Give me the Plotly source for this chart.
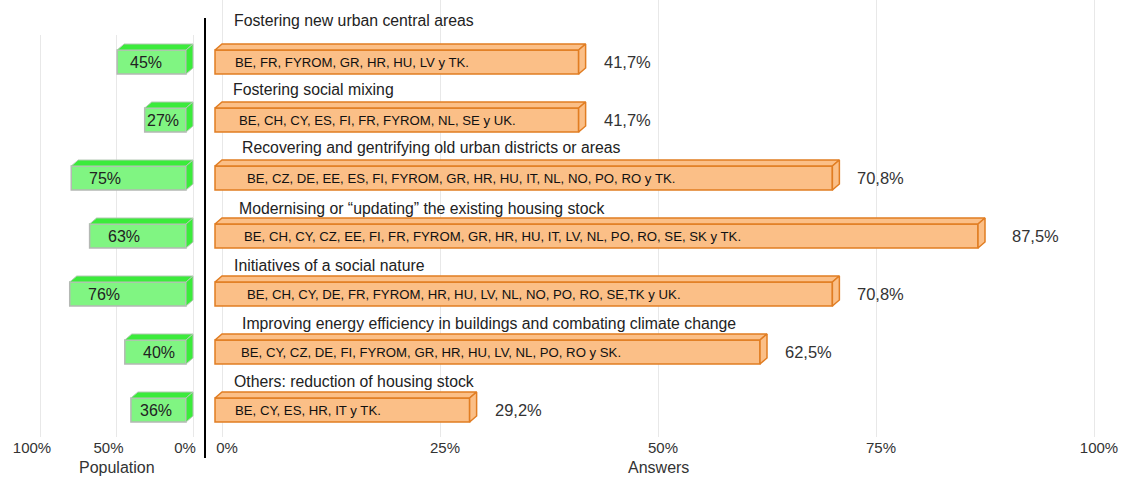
import plotly.graph_objects as go

# ---------------- data ----------------
categories = [
    "Fostering new urban central areas",
    "Fostering social mixing",
    "Recovering and gentrifying old urban districts or areas",
    "Modernising or \u201cupdating\u201d the existing housing stock",
    "Initiatives of a social nature",
    "Improving energy efficiency in buildings and combating climate change",
    "Others: reduction of housing stock",
]
countries = [
    "BE, FR, FYROM, GR, HR, HU, LV y TK.",
    "BE, CH, CY, ES, FI, FR, FYROM, NL, SE y UK.",
    "BE, CZ, DE, EE, ES, FI, FYROM, GR, HR, HU, IT, NL, NO, PO, RO y TK.",
    "BE, CH, CY, CZ, EE, FI, FR, FYROM, GR, HR, HU, IT, LV, NL, PO, RO, SE, SK y TK.",
    "BE, CH, CY, DE, FR, FYROM, HR, HU, LV, NL, NO, PO, RO, SE,TK y UK.",
    "BE, CY, CZ, DE, FI, FYROM, GR, HR, HU, LV, NL, PO, RO y SK.",
    "BE, CY, ES, HR, IT y TK.",
]
answers = [41.7, 41.7, 70.8, 87.5, 70.8, 62.5, 29.2]
population = [45, 27, 75, 63, 76, 40, 36]
left_ticks = [100, 50, 0]
right_ticks = [0, 25, 50, 75, 100]

# ---------------- layout geometry (pixels) ----------------
W, H = 1124, 481
FONT = "Liberation Sans, Arial, sans-serif"
ROW0, ROWSTEP = 62.0, 58.0          # pixel centre of first front face, row pitch
PLOT_BOTTOM = 437.0
LEFT_TOP = 35.0
R0PX, R100PX = 222.0, 1094.0        # right axis 0% and 100%
L0PX, L100PX = 193.0, 40.0          # left axis 0% and 100%
DIVX = 205.0
DX, DY, FACE_H = 7.0, 6.0, 24.0     # 3D depth and front-face height in px

def py2i(p):
    return (p - ROW0) / ROWSTEP

rs = (R100PX - R0PX) / 100.0        # px per unit right
ls = (L0PX - L100PX) / 100.0        # px per unit left
dxr = DX / rs
dxl = DX / ls
dyi = DY / ROWSTEP
hi = FACE_H / ROWSTEP

n = len(categories)
idx = list(range(n))

fig = go.Figure()

# ---------- right (answers) front faces ----------
fig.add_trace(go.Bar(
    y=idx, x=answers, base=[-dxr] * n, orientation="h", width=hi,
    marker=dict(color="#FBBF87", line=dict(color="#E17D22", width=1.5)),
    xaxis="x", yaxis="y", hoverinfo="skip", showlegend=False,
))
tx, ty, sx, sy = [], [], [], []
for i, v in zip(idx, answers):
    x0, x1 = -dxr, v - dxr
    yt, yb = i - hi / 2, i + hi / 2
    tx += [x0, x1, x1 + dxr, x0 + dxr, x0, None]
    ty += [yt, yt, yt - dyi, yt - dyi, yt, None]
    sx += [x1, x1 + dxr, x1 + dxr, x1, x1, None]
    sy += [yt, yt - dyi, yb - dyi, yb, yt, None]
for xs, ys in ((tx, ty), (sx, sy)):
    fig.add_trace(go.Scatter(
        x=xs, y=ys, mode="lines", fill="toself", fillcolor="#FBBF87",
        line=dict(color="#E17D22", width=1.5), xaxis="x", yaxis="y",
        hoverinfo="skip", showlegend=False,
    ))

# ---------- left (population) front faces ----------
fig.add_trace(go.Bar(
    y=idx, x=population, base=[dxl] * n, orientation="h", width=hi,
    marker=dict(color="#80F582", line=dict(color="#B4B8B4", width=1.5)),
    xaxis="x2", yaxis="y2", hoverinfo="skip", showlegend=False,
))
tx, ty, sx, sy = [], [], [], []
for i, v in zip(idx, population):
    x0, x1 = v + dxl, dxl
    yt, yb = i - hi / 2, i + hi / 2
    tx += [x0, x1, x1 - dxl, x0 - dxl, x0, None]
    ty += [yt, yt, yt - dyi, yt - dyi, yt, None]
    sx += [x1, x1 - dxl, x1 - dxl, x1, x1, None]
    sy += [yt, yt - dyi, yb - dyi, yb, yt, None]
for xs, ys in ((tx, ty), (sx, sy)):
    fig.add_trace(go.Scatter(
        x=xs, y=ys, mode="lines", fill="toself", fillcolor="#3BEB3B",
        line=dict(color="#B4C8B4", width=1), xaxis="x2", yaxis="y2",
        hoverinfo="skip", showlegend=False,
    ))

annotations = []
title_shift = [10, 9, 18, 15, 10, 18, 10]
title_dy = [-0.72, -0.53, -0.52, -0.48, -0.50, -0.50, -0.50]
country_pad = [18, 22, 30, 27, 30, 24, 18]
value_gap = [16, 16, 16, 25, 16, 16, 16]
green_pad = [11, 0, 16, 16, 16, 16, 7]
for i in idx:
    annotations.append(dict(
        x=0, y=i + title_dy[i], xref="x", yref="y", text=categories[i],
        showarrow=False, xanchor="left", yanchor="middle", xshift=title_shift[i],
        font=dict(family=FONT, size=15.8, color="#222222"),
    ))
    annotations.append(dict(
        x=-dxr, y=i, xref="x", yref="y", text=countries[i],
        showarrow=False, xanchor="left", yanchor="middle", xshift=country_pad[i],
        font=dict(family=FONT, size=13.2, color="#111111"),
    ))
    annotations.append(dict(
        x=answers[i], y=i, xref="x", yref="y",
        text=f"{answers[i]:.1f}%".replace(".", ","),
        showarrow=False, xanchor="left", yanchor="middle", xshift=value_gap[i],
        font=dict(family=FONT, size=16.5, color="#333333"),
    ))
    annotations.append(dict(
        x=population[i] + dxl, y=i, xref="x2", yref="y2",
        text=f"{population[i]}%", showarrow=False, xanchor="left", yanchor="middle",
        xshift=green_pad[i],
        font=dict(family=FONT, size=16, color="#222222"),
    ))

annotations.append(dict(x=50, y=1 - 467 / H, xref="x2", yref="paper", text="Population",
                        showarrow=False, xanchor="center", yanchor="middle",
                        font=dict(family=FONT, size=16, color="#333333")))
annotations.append(dict(x=50, y=1 - 467 / H, xref="x", yref="paper", text="Answers",
                        showarrow=False, xanchor="center", yanchor="middle",
                        font=dict(family=FONT, size=16, color="#333333")))

shapes = [dict(type="line", xref="paper", yref="paper",
               x0=DIVX / W, x1=DIVX / W, y0=1 - 458 / H, y1=1 - 18 / H,
               line=dict(color="#000000", width=2))]

fig.update_layout(
    width=W, height=H, margin=dict(l=0, r=0, t=0, b=0),
    paper_bgcolor="#FFFFFF", plot_bgcolor="rgba(0,0,0,0)",
    barmode="overlay", showlegend=False,
    annotations=annotations, shapes=shapes,
    xaxis=dict(
        domain=[DIVX / W, 1.0],
        range=[(DIVX - R0PX) / rs, (W - R0PX) / rs],
        tickvals=right_ticks, ticktext=[f"{t}%" for t in right_ticks],
        showgrid=True, gridcolor="#E8E8E8", gridwidth=1, zeroline=False,
        showline=False, ticks="", ticklabelshift=5, ticklabelstandoff=0,
        tickfont=dict(family=FONT, size=15, color="#333333"),
        anchor="y", fixedrange=True,
    ),
    xaxis2=dict(
        domain=[0.0, DIVX / W],
        range=[(L0PX - 0) / ls, (L0PX - DIVX) / ls],
        tickvals=left_ticks, ticktext=[f"{t}%" for t in left_ticks],
        showgrid=True, gridcolor="#E8E8E8", gridwidth=1, zeroline=False,
        showline=False, ticks="", ticklabelshift=8, ticklabelstandoff=0,
        tickfont=dict(family=FONT, size=15, color="#333333"),
        anchor="y2", fixedrange=True,
    ),
    yaxis=dict(
        domain=[1 - PLOT_BOTTOM / H, 1.0],
        range=[py2i(PLOT_BOTTOM), py2i(0)],
        showgrid=False, zeroline=False, showticklabels=False, showline=False,
        anchor="x", fixedrange=True,
    ),
    yaxis2=dict(
        domain=[1 - PLOT_BOTTOM / H, 1 - LEFT_TOP / H],
        range=[py2i(PLOT_BOTTOM), py2i(LEFT_TOP)],
        showgrid=False, zeroline=False, showticklabels=False, showline=False,
        anchor="x2", fixedrange=True,
    ),
)

fig.write_html(
    "out.html",
    config={"displayModeBar": False, "staticPlot": True},
    post_script="document.body.style.margin='0px';document.body.style.overflow='hidden';",
)
